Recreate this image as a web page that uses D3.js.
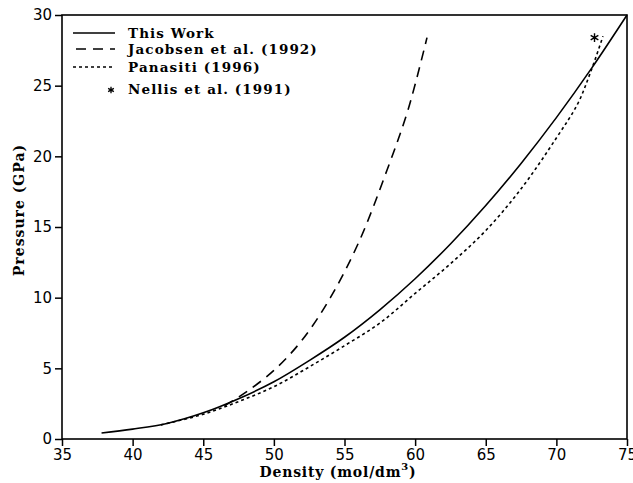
<!DOCTYPE html>
<html><head><meta charset="utf-8">
<script src="https://cdn.jsdelivr.net/npm/d3@7"></script>
<style>body{margin:0;background:#fff}svg{display:block}</style>
</head><body>
<svg id="c" width="633" height="483"></svg>
<script>
// Data
const thisWorkDensity  = [37.8, 40, 42.5, 45, 47.5, 50, 52.5, 55, 57.5, 60, 62.5, 65, 67.5, 70, 72.5, 75];
const thisWorkPressure = [0.42, 0.7, 1.12, 1.85, 2.85, 4.05, 5.55, 7.2, 9.14, 11.34, 13.8, 16.52, 19.5, 22.74, 26.24, 30];

const jacobsenDensity  = [46.5, 48, 50, 52, 54, 56, 58, 59.5, 60.84];
const jacobsenPressure = [2.35, 3.3, 4.85, 7.0, 10.0, 13.9, 19.0, 23.3, 28.4];

const panasitiDensity  = [42, 45, 47.5, 50, 52.5, 55, 57.5, 60, 62.5, 65, 67.5, 70, 71.5, 72.4, 73.3];
const panasitiPressure = [1.0, 1.75, 2.65, 3.7, 5.1, 6.6, 8.2, 10.3, 12.4, 14.75, 17.7, 21.3, 23.7, 25.9, 28.5];

const nellisDensity  = [72.7];
const nellisPressure = [28.4];

const xTicks = [35, 40, 45, 50, 55, 60, 65, 70, 75];
const yTicks = [0, 5, 10, 15, 20, 25, 30];
const legendLabels = ["This Work", "Jacobsen et al. (1992)", "Panasiti (1996)", "Nellis et al. (1991)"];

const svg = d3.select("#c");
const x = d3.scaleLinear().domain([35, 75]).range([62, 627]);
const y = d3.scaleLinear().domain([0, 30]).range([439, 15]);

const zip = (a, b) => a.map((v, i) => [v, b[i]]);
const line = d3.line().x(d => x(d[0])).y(d => y(d[1])).curve(d3.curveCatmullRom.alpha(0.5));

// frame
svg.append("rect").attr("x", 62).attr("y", 15).attr("width", 565).attr("height", 424)
  .attr("fill", "none").attr("stroke", "#000").attr("stroke-width", 1.6);

// x axis ticks
const gx = svg.append("g").attr("transform", "translate(0,439)");
gx.call(d3.axisBottom(x).tickValues(d3.range(35, 76, 1)).tickSize(5).tickFormat(""))
  .call(g => g.select(".domain").remove());
gx.call(d3.axisBottom(x).tickValues(xTicks).tickSize(7).tickPadding(3).tickFormat(d3.format("d")))
  .call(g => g.selectAll(".domain").remove());
gx.selectAll("line").attr("stroke", "#000").attr("stroke-width", 1.5);
gx.selectAll("text").attr("font-family", "DejaVu Sans").attr("font-size", 15).attr("fill", "#000");

// y axis ticks
const gy = svg.append("g").attr("transform", "translate(62,0)");
gy.call(d3.axisLeft(y).tickValues(d3.range(0, 31, 1)).tickSize(3).tickFormat(""))
  .call(g => g.select(".domain").remove());
gy.call(d3.axisLeft(y).tickValues(yTicks).tickSize(7).tickPadding(3).tickFormat(d3.format("d")))
  .call(g => g.selectAll(".domain").remove());
gy.selectAll("line").attr("stroke", "#000").attr("stroke-width", 1.5);
gy.selectAll("text").attr("font-family", "DejaVu Sans").attr("font-size", 15).attr("fill", "#000");

// curves
const styles = [
  {data: zip(thisWorkDensity, thisWorkPressure), dash: null},
  {data: zip(jacobsenDensity, jacobsenPressure), dash: "10,7"},
  {data: zip(panasitiDensity, panasitiPressure), dash: "3,3"}
];
styles.forEach(s => {
  svg.append("path").attr("d", line(s.data)).attr("fill", "none")
    .attr("stroke", "#000").attr("stroke-width", 1.6)
    .attr("stroke-dasharray", s.dash);
});

const star = d3.symbol().type(d3.symbolAsterisk).size(55);
svg.selectAll(".nellis").data(zip(nellisDensity, nellisPressure)).join("path")
  .attr("transform", d => `translate(${x(d[0])},${y(d[1])})`)
  .attr("d", star).attr("fill", "none").attr("stroke", "#000").attr("stroke-width", 1.4);

// legend
const lg = svg.append("g");
const rowsY = [33, 49, 67, 89];
const dashes = [null, "10,7", "3,3"];
[0, 1, 2].forEach(i => {
  lg.append("line").attr("x1", 73).attr("x2", 115).attr("y1", rowsY[i]).attr("y2", rowsY[i])
    .attr("stroke", "#000").attr("stroke-width", 1.6).attr("stroke-dasharray", dashes[i])
    .attr("stroke-dashoffset", i === 1 ? -3 : 0);
});
lg.append("path").attr("transform", `translate(111,${rowsY[3] + 1})`)
  .attr("d", d3.symbol().type(d3.symbolAsterisk).size(30)).attr("stroke", "#000").attr("stroke-width", 1.3);
legendLabels.forEach((t, i) => {
  lg.append("text").attr("x", 128).attr("y", rowsY[i] + 5).text(t)
    .attr("font-family", "DejaVu Serif").attr("font-weight", "bold").attr("font-size", 13.5)
    .attr("letter-spacing", 1.1);
});

// axis titles
const xt = svg.append("text").attr("x", 338).attr("y", 477).attr("text-anchor", "middle")
  .attr("font-family", "DejaVu Serif").attr("font-weight", "bold").attr("font-size", 14)
  .attr("letter-spacing", 0.8);
xt.append("tspan").text("Density (mol/dm");
xt.append("tspan").text("3").attr("dy", -7).attr("font-size", 10);
xt.append("tspan").text(")").attr("dy", 7);

svg.append("text").attr("transform", "translate(24,210) rotate(-90)").attr("text-anchor", "middle")
  .attr("font-family", "DejaVu Serif").attr("font-weight", "bold").attr("font-size", 14)
  .attr("letter-spacing", 1)
  .text("Pressure (GPa)");
</script>
</body></html>
